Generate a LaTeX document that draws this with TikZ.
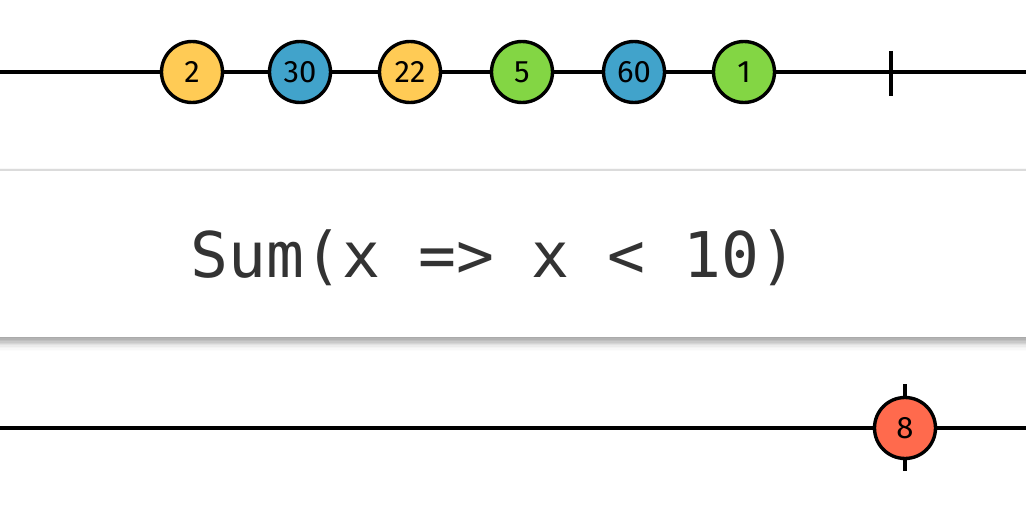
\documentclass[tikz,border=0pt]{standalone}
\usepackage{fontspec}
\setmainfont{Fira Sans}
\newfontfamily\codefont{DejaVu Sans Mono}
\definecolor{myellow}{HTML}{FFCB55}
\definecolor{mblue}{HTML}{41A3CB}
\definecolor{mgreen}{HTML}{83D644}
\definecolor{mred}{HTML}{FF6A4D}
\definecolor{codegray}{HTML}{333333}
\tikzset{
  marble/.style={circle,draw=black,line width=3.4pt,minimum size=61pt,inner sep=0pt,font=\fontsize{31}{31}\selectfont},
  timeline/.style={line width=3.4pt,draw=black},
}
\begin{document}
\begin{tikzpicture}[x=1pt,y=-1pt]
\useasboundingbox (0,0) rectangle (1026,516);
\fill[white] (0,0) rectangle (1026,516);
% top timeline
\coordinate (tl0) at (-5,72);
\coordinate (tl1) at (1031,72);
\draw[timeline] (tl0) -- (tl1);
\coordinate (tt1) at (891,51);
\coordinate (tt2) at (891,96);
\draw[timeline] (tt1) -- (tt2);
\node[marble,fill=myellow] (m1) at (192,72) {2};
\node[marble,fill=mblue] (m2) at (300,72) {30};
\node[marble,fill=myellow] (m3) at (410,72) {22};
\node[marble,fill=mgreen] (m4) at (522,72) {5};
\node[marble,fill=mblue] (m5) at (634,72) {60};
\node[marble,fill=mgreen] (m6) at (744,72) {1};
% operator box
\foreach \i/\o in {1/0.05,2/0.05,3/0.05,4/0.05,5/0.05,6/0.04,7/0.03,8/0.02,9/0.015,10/0.01}{
  \fill[black,opacity=\o] (-10,{171-0.3*\i}) rectangle (1036,{337+1.4*\i});
}
\fill[black!14] (-10,169) rectangle (1036,171);
\node[fill=white,minimum width=1046pt,minimum height=166pt,inner sep=0pt,anchor=north west] (box) at (-10,171) {};
\node[font=\codefont\fontsize{63}{63}\selectfont,text=codegray,anchor=base] (lbl) at (494,277) {Sum(x => x < 10)};
% bottom timeline
\coordinate (bl0) at (-5,428);
\coordinate (bl1) at (1031,428);
\draw[timeline] (bl0) -- (bl1);
\coordinate (bt1) at (905,384);
\coordinate (bt2) at (905,471);
\draw[timeline] (bt1) -- (bt2);
\node[marble,fill=mred] (r1) at (905,428) {8};
\end{tikzpicture}
\end{document}
